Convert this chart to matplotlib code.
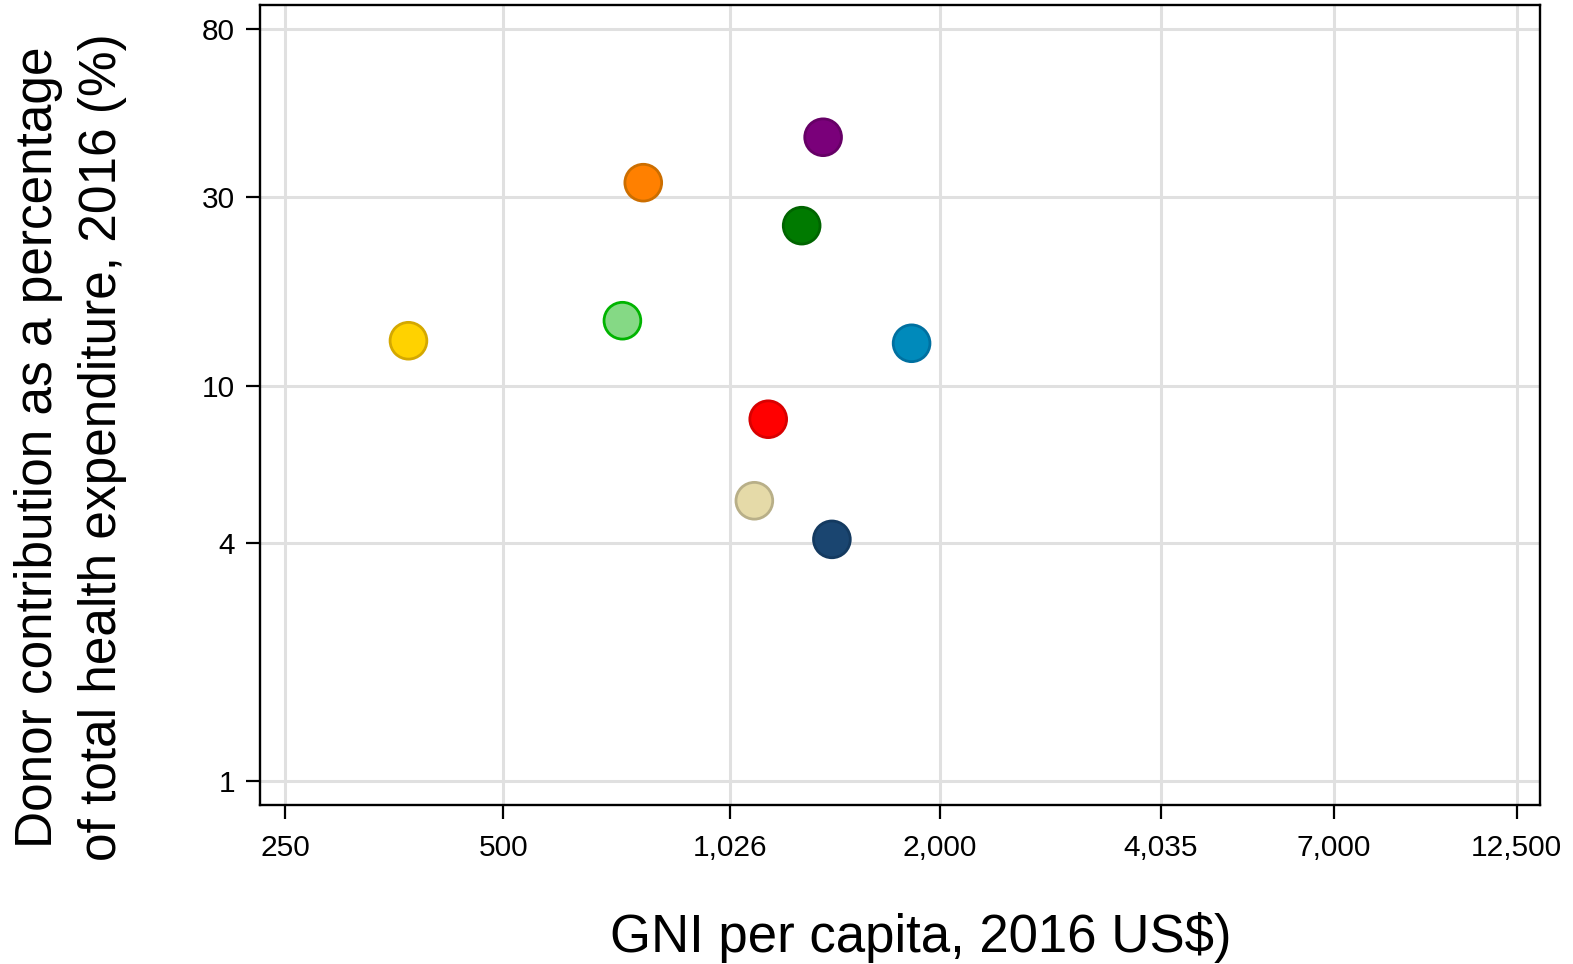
import matplotlib
matplotlib.use("Agg")
import matplotlib.pyplot as plt
from matplotlib.ticker import FixedLocator, FixedFormatter, NullLocator

gni = [370, 730, 780, 1110, 1160, 1290, 1381, 1420, 1829]
donor_pct = [12.99, 14.60, 32.65, 5.11, 8.22, 25.41, 42.55, 4.08, 12.80]
face_colors = ['#FFD200', '#85D985', '#FF8000', '#E5DAA8', '#FF0000',
               '#007A00', '#7A007A', '#1A4570', '#008ABB']
edge_colors = ['#D4A800', '#00B400', '#CC6E00', '#B8AF88', '#D80000',
               '#006400', '#660066', '#143A60', '#0070A0']

x_ticks = [250, 500, 1026, 2000, 4035, 7000, 12500]
x_labels = ['250', '500', '1,026', '2,000', '4,035', '7,000', '12,500']
y_ticks = [1, 4, 10, 30, 80]
y_labels = ['1', '4', '10', '30', '80']

plt.rcParams['font.family'] = ['Liberation Sans', 'DejaVu Sans']

W, H = 1573, 964
fig = plt.figure(figsize=(W / 100, H / 100), dpi=100)
L, R, T, B = 260, 1540, 5, 805
ax = fig.add_axes([L / W, 1 - B / H, (R - L) / W, (B - T) / H])
ax.set_xscale('log')
ax.set_yscale('log')
ax.set_xlim(230.9, 13460)
ax.set_ylim(0.867, 92.0)

ax.xaxis.set_major_locator(FixedLocator(x_ticks))
ax.xaxis.set_major_formatter(FixedFormatter(x_labels))
ax.xaxis.set_minor_locator(NullLocator())
ax.yaxis.set_major_locator(FixedLocator(y_ticks))
ax.yaxis.set_major_formatter(FixedFormatter(y_labels))
ax.yaxis.set_minor_locator(NullLocator())

ax.grid(True, color='#E0E0E0', linewidth=2.2, zorder=0)
ax.set_axisbelow(True)
for s in ax.spines.values():
    s.set_linewidth(1.7)
    s.set_color('black')

ax.tick_params(axis='both', which='major', direction='out', length=10, width=1.6,
               labelsize=21.5, color='black')
ax.tick_params(axis='x', pad=11)
ax.tick_params(axis='y', pad=8)

ax.scatter(gni, donor_pct, s=700, c=face_colors, edgecolors=edge_colors,
           linewidths=2.0, zorder=3)

ax.set_xlabel('GNI per capita, 2016 US$)', fontsize=38)
ax.xaxis.set_label_coords(0.516, -0.134)
ax.set_ylabel('Donor contribution as a percentage\nof total health expenditure, 2016 (%)',
              fontsize=37, linespacing=1.38)
ax.yaxis.set_label_coords(-0.104, 0.447)

fig.savefig('out.png', dpi=100, facecolor='white')
